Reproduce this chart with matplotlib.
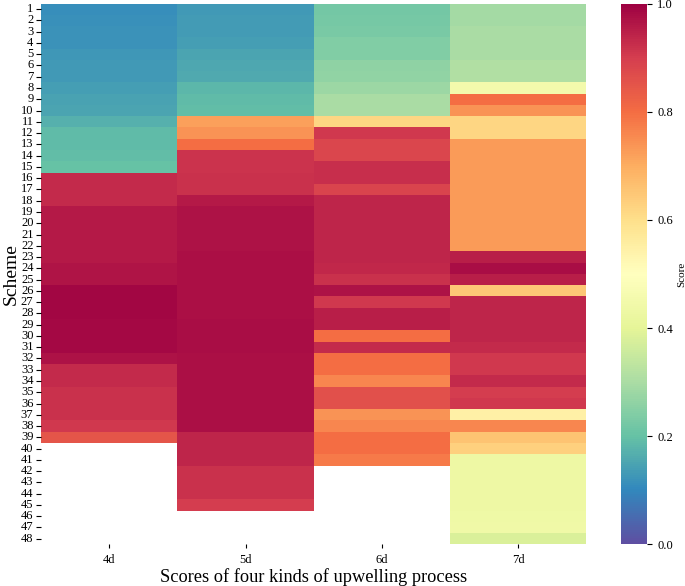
import matplotlib
matplotlib.use("Agg")
import matplotlib.pyplot as plt
import numpy as np
import pandas as pd
import seaborn as sns

plt.rcParams['font.family'] = ['Liberation Serif', 'DejaVu Serif']

# columns of the heatmap
processes = ["4d", "5d", "6d", "7d"]
schemes = list(range(1, 49))

# scores per scheme (nan = no scheme)
score_4d = [0.11, 0.115, 0.12, 0.12, 0.125, 0.13, 0.13, 0.14, 0.145, 0.15,
            0.17, 0.19, 0.19, 0.195, 0.2, 0.93, 0.93, 0.93, 0.96, 0.96,
            0.96, 0.96, 0.96, 0.965, 0.965, 0.99, 0.99, 0.99, 0.985, 0.985,
            0.985, 0.97, 0.93, 0.93, 0.92, 0.92, 0.92, 0.91, 0.85]
score_5d = [0.13, 0.135, 0.135, 0.14, 0.15, 0.155, 0.16, 0.18, 0.19, 0.195,
            0.72, 0.74, 0.8, 0.915, 0.915, 0.92, 0.92, 0.96, 0.97, 0.97,
            0.97, 0.97, 0.975, 0.975, 0.975, 0.975, 0.975, 0.975, 0.98, 0.98,
            0.98, 0.975, 0.975, 0.975, 0.975, 0.975, 0.975, 0.975, 0.94, 0.94,
            0.94, 0.92, 0.92, 0.92, 0.9]
score_6d = [0.22, 0.225, 0.23, 0.24, 0.24, 0.26, 0.265, 0.28, 0.3, 0.3,
            0.62, 0.91, 0.88, 0.88, 0.925, 0.925, 0.885, 0.94, 0.94, 0.94,
            0.94, 0.94, 0.94, 0.935, 0.92, 0.97, 0.91, 0.95, 0.95, 0.8,
            0.93, 0.8, 0.8, 0.76, 0.86, 0.86, 0.74, 0.76, 0.8, 0.8,
            0.78]
score_7d = [0.29, 0.29, 0.3, 0.3, 0.3, 0.31, 0.31, 0.45, 0.8, 0.74,
            0.62, 0.62, 0.73, 0.73, 0.73, 0.73, 0.73, 0.73, 0.73, 0.73,
            0.73, 0.73, 0.95, 0.98, 0.95, 0.65, 0.94, 0.94, 0.94, 0.94,
            0.93, 0.91, 0.91, 0.93, 0.9, 0.91, 0.55, 0.76, 0.66, 0.63,
            0.43, 0.43, 0.43, 0.43, 0.43, 0.435, 0.44, 0.38]


def pad(vals):
    return vals + [np.nan] * (len(schemes) - len(vals))


df = pd.DataFrame({"4d": pad(score_4d), "5d": pad(score_5d),
                   "6d": pad(score_6d), "7d": pad(score_7d)}, index=schemes)

fig = plt.figure(figsize=(6.85, 5.86), dpi=100)
ax = fig.add_axes([0.06, 0.071, 0.796, 0.923])
cax = fig.add_axes([0.906, 0.071, 0.039, 0.923])

sns.heatmap(df, ax=ax, cbar_ax=cax, cmap="Spectral_r", vmin=0, vmax=1)

ax.set_yticks(np.arange(len(schemes)) + 0.5)
ax.set_yticklabels(schemes, rotation=0, fontsize=9)
ax.set_xticklabels(processes, fontsize=9)
ax.tick_params(axis="x", length=3, pad=4)
ax.tick_params(axis="y", length=3.5, pad=2)
ax.set_ylabel("Scheme", fontsize=14, labelpad=1)
ax.set_xlabel("Scores of four kinds of upwelling process", fontsize=13.2, labelpad=1.5)

cax.set_yticks([0.0, 0.2, 0.4, 0.6, 0.8, 1.0])
cax.tick_params(labelsize=9, length=3.5)
cax.set_ylabel("Score", fontsize=8, labelpad=3)

fig.savefig("out.png", dpi=100)
